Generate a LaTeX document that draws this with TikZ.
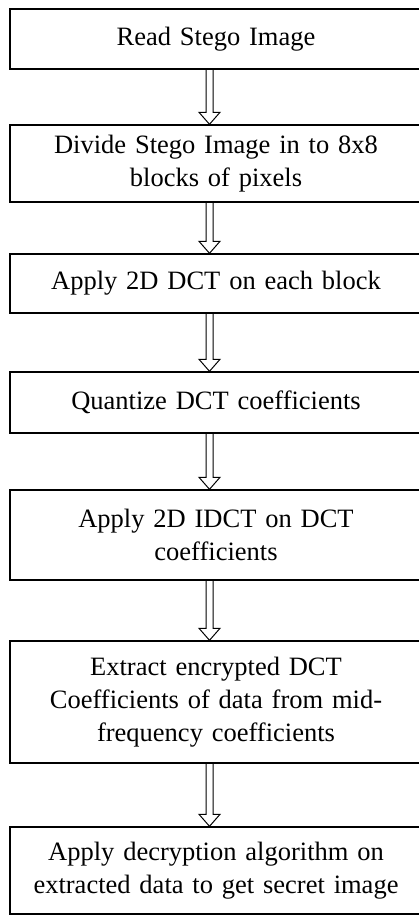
\documentclass[tikz,border=0pt]{standalone}
\usepackage{fontspec}
\setmainfont{Liberation Serif}
\usetikzlibrary{calc}

\tikzset{
 stepbox/.style={draw, line width=1.4pt, inner sep=0, minimum width=412pt, text width=400pt, align=center,
   font=\fontsize{26.5}{33}\selectfont},
 hollow/.style={line width=1pt, to path={
   let \p1=(\tikztostart), \p2=(\tikztotarget) in
   (\x1-3.5pt,\y1) -- (\x1-3.5pt,\y2+12pt) -- (\x1-10.5pt,\y2+12pt) -- (\x2,\y2)
   -- (\x1+10.5pt,\y2+12pt) -- (\x1+3.5pt,\y2+12pt) -- (\x1+3.5pt,\y1)}}
}

\begin{document}
\begin{tikzpicture} [x=1pt, y=-1pt]
\useasboundingbox (0,0) rectangle (419,915);
\node[stepbox, minimum height=60pt]  (b1) at (216,39)    {Read Stego Image};
\node[stepbox, minimum height=77pt]  (b2) at (216,163.5) {Divide Stego Image in to 8x8\\blocks of pixels};
\node[stepbox, minimum height=59pt]  (b3) at (216,283.5) {Apply 2D DCT on each block};
\node[stepbox, minimum height=61pt]  (b4) at (216,402.5) {Quantize DCT coefficients};
\node[stepbox, minimum height=90pt]  (b5) at (216,535)   {Apply 2D IDCT on DCT\\coefficients};
\node[stepbox, minimum height=122pt] (b6) at (216,702)   {Extract encrypted DCT\\Coefficients of data from mid-\\frequency coefficients};
\node[stepbox, minimum height=87pt]  (b7) at (216,870.5) {Apply decryption algorithm on\\extracted data to get secret image};
% hollow arrows between the steps
\coordinate (ax) at (209.5,0);
\foreach \a/\b in {b1/b2,b2/b3,b3/b4,b4/b5,b5/b6,b6/b7}
 \draw[hollow] (\a.south -| ax) to (\b.north -| ax);
\end{tikzpicture}
\end{document}
